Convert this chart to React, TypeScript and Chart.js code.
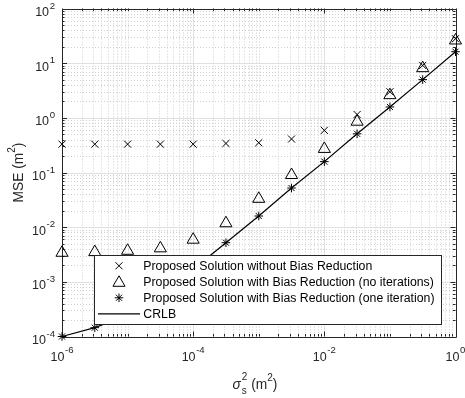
import { useEffect, useRef } from "react";
import { Chart, registerables } from "chart.js";

Chart.register(...registerables);

// ---------- data ----------
const sigmaS2 = [1e-6, 3.16e-6, 1e-5, 3.16e-5, 1e-4, 3.16e-4, 1e-3, 3.16e-3, 1e-2, 3.16e-2, 1e-1, 3.16e-1, 1];
const mseNoBiasReduction = [0.33, 0.33, 0.33, 0.33, 0.33, 0.34, 0.35, 0.41, 0.59, 1.15, 3.0, 9.1, 28];
const mseBiasRedNoIter = [0.0034, 0.0035, 0.0037, 0.0041, 0.0059, 0.0118, 0.033, 0.09, 0.27, 0.85, 2.6, 8.1, 26];
const mseBiasRedOneIter = [1.0e-4, 1.45e-4, 2.45e-4, 5.9e-4, 1.7e-3, 5.2e-3, 0.016, 0.052, 0.158, 0.51, 1.58, 5.0, 16.2];
const crlbValues = [1.0e-4, 1.45e-4, 2.45e-4, 5.9e-4, 1.7e-3, 5.2e-3, 0.016, 0.052, 0.158, 0.51, 1.58, 5.0, 16.2];

const xTickExponents = [-6, -4, -2, 0];
const yTickExponents = [-4, -3, -2, -1, 0, 1, 2];

const legendLabels = [
  "Proposed Solution without Bias Reduction",
  "Proposed Solution with Bias Reduction (no iterations)",
  "Proposed Solution with Bias Reduction (one iteration)",
  "CRLB",
];

const FONT_FAMILY = '"Liberation Sans", Arial, Helvetica, sans-serif';
const AXIS_COLOR = "#262626";

function toPoints(ys: number[]) {
  return sigmaS2.map((x, i) => ({ x, y: ys[i] }));
}

// ---------- marker drawing for legend ----------
function drawMarker(ctx: CanvasRenderingContext2D, kind: string, x: number, y: number) {
  ctx.save();
  ctx.strokeStyle = "#000";
  ctx.lineWidth = 1;
  ctx.beginPath();
  if (kind === "x") {
    const d = 5 * Math.SQRT1_2;
    ctx.moveTo(x - d, y - d); ctx.lineTo(x + d, y + d);
    ctx.moveTo(x - d, y + d); ctx.lineTo(x + d, y - d);
  } else if (kind === "tri") {
    const r = 7;
    for (let k = 0; k < 3; k++) {
      const a = (k * 2 * Math.PI) / 3;
      const px = x + Math.sin(a) * r, py = y - Math.cos(a) * r;
      if (k === 0) ctx.moveTo(px, py); else ctx.lineTo(px, py);
    }
    ctx.closePath();
  } else if (kind === "star") {
    const r = 4.3;
    const d = r * Math.SQRT1_2;
    ctx.moveTo(x - r, y); ctx.lineTo(x + r, y);
    ctx.moveTo(x, y - r); ctx.lineTo(x, y + r);
    ctx.moveTo(x - d, y - d); ctx.lineTo(x + d, y + d);
    ctx.moveTo(x - d, y + d); ctx.lineTo(x + d, y - d);
  }
  ctx.stroke();
  ctx.restore();
}

function drawPow(ctx: CanvasRenderingContext2D, exp: number, x: number, baseY: number, align: "center" | "right") {
  const baseFont = `12.5px ${FONT_FAMILY}`;
  const expFont = `9.6px ${FONT_FAMILY}`;
  const expStr = String(exp);
  ctx.font = baseFont;
  const bw = ctx.measureText("10").width;
  ctx.font = expFont;
  const ew = ctx.measureText(expStr).width;
  const gap = 0.6;
  const total = bw + gap + ew;
  const x0 = align === "center" ? x - total / 2 : x - total;
  ctx.textAlign = "left";
  ctx.textBaseline = "alphabetic";
  ctx.fillStyle = AXIS_COLOR;
  ctx.font = baseFont;
  ctx.fillText("10", x0, baseY);
  ctx.font = expFont;
  ctx.fillText(expStr, x0 + bw + gap, baseY - 7.4);
}

const matlabPlugin = {
  id: "matlabStyle",
  beforeDraw(chart: any) {
    const { ctx, chartArea: a, scales } = chart;
    const xs = scales.x, ys = scales.y;
    ctx.save();
    ctx.fillStyle = "#fff";
    ctx.fillRect(0, 0, chart.width, chart.height);

    const xMinE = Math.round(Math.log10(xs.min)), xMaxE = Math.round(Math.log10(xs.max));
    const yMinE = Math.round(Math.log10(ys.min)), yMaxE = Math.round(Math.log10(ys.max));

    // minor grid (dotted)
    ctx.strokeStyle = "#cfcfcf";
    ctx.lineWidth = 1;
    ctx.setLineDash([1, 2]);
    ctx.beginPath();
    for (let e = xMinE; e < xMaxE; e++) {
      for (let k = 1; k <= 9; k++) {
        if (k === 1 && xTickExponents.includes(e)) continue;
        const px = Math.round(xs.getPixelForValue(k * Math.pow(10, e))) + 0.5;
        ctx.moveTo(px, a.top); ctx.lineTo(px, a.bottom);
      }
    }
    for (let e = yMinE; e < yMaxE; e++) {
      for (let k = 2; k <= 9; k++) {
        const py = Math.round(ys.getPixelForValue(k * Math.pow(10, e))) + 0.5;
        ctx.moveTo(a.left, py); ctx.lineTo(a.right, py);
      }
    }
    ctx.stroke();

    // major grid (solid)
    ctx.setLineDash([]);
    ctx.strokeStyle = "#e0e0e0";
    ctx.beginPath();
    xTickExponents.forEach((e) => {
      const px = Math.round(xs.getPixelForValue(Math.pow(10, e))) + 0.5;
      ctx.moveTo(px, a.top); ctx.lineTo(px, a.bottom);
    });
    yTickExponents.forEach((e) => {
      const py = Math.round(ys.getPixelForValue(Math.pow(10, e))) + 0.5;
      ctx.moveTo(a.left, py); ctx.lineTo(a.right, py);
    });
    ctx.stroke();

    // box + inward ticks
    ctx.strokeStyle = AXIS_COLOR;
    ctx.lineWidth = 1;
    ctx.beginPath();
    ctx.rect(Math.round(a.left) + 0.5, Math.round(a.top) + 0.5, Math.round(a.right - a.left), Math.round(a.bottom - a.top));
    ctx.stroke();

    ctx.beginPath();
    for (let e = xMinE; e <= xMaxE; e++) {
      for (let k = 1; k <= 9; k++) {
        if (e === xMaxE && k > 1) break;
        const major = k === 1 && xTickExponents.includes(e);
        const len = major ? 5 : 2.5;
        const px = Math.round(xs.getPixelForValue(k * Math.pow(10, e))) + 0.5;
        ctx.moveTo(px, a.bottom); ctx.lineTo(px, a.bottom - len);
        ctx.moveTo(px, a.top); ctx.lineTo(px, a.top + len);
      }
    }
    for (let e = yMinE; e <= yMaxE; e++) {
      for (let k = 1; k <= 9; k++) {
        if (e === yMaxE && k > 1) break;
        const len = k === 1 ? 5 : 2.5;
        const py = Math.round(ys.getPixelForValue(k * Math.pow(10, e))) + 0.5;
        ctx.moveTo(a.left, py); ctx.lineTo(a.left + len, py);
        ctx.moveTo(a.right, py); ctx.lineTo(a.right - len, py);
      }
    }
    ctx.stroke();

    // tick labels
    xTickExponents.forEach((e) => {
      const px = xs.getPixelForValue(Math.pow(10, e));
      drawPow(ctx, e, px, a.bottom + 24.3, "center");
    });
    yTickExponents.forEach((e) => {
      const py = ys.getPixelForValue(Math.pow(10, e));
      drawPow(ctx, e, a.left - 7, py + 7.6, "right");
    });

    // x title: sigma_s^2 (m^2)
    {
      const mainFont = `13.75px ${FONT_FAMILY}`;
      const italicFont = `italic 13.75px ${FONT_FAMILY}`;
      const smallFont = `10px ${FONT_FAMILY}`;
      const baseY = 388.5;
      ctx.fillStyle = AXIS_COLOR;
      ctx.textAlign = "left";
      ctx.font = italicFont;
      const wSig = ctx.measureText("σ").width;
      ctx.font = smallFont;
      const wSup = Math.max(ctx.measureText("2").width, ctx.measureText("s").width);
      ctx.font = mainFont;
      const wOpen = ctx.measureText(" (m").width;
      ctx.font = smallFont;
      const w2 = ctx.measureText("2").width;
      ctx.font = mainFont;
      const wClose = ctx.measureText(")").width;
      const total = wSig + 1 + wSup + wOpen + w2 + wClose;
      const cx = 255;
      let x = cx - total / 2;
      ctx.font = italicFont;
      ctx.fillText("σ", x, baseY);
      x += wSig + 1;
      ctx.font = smallFont;
      ctx.fillText("2", x, baseY - 8.5);
      ctx.fillText("s", x, baseY + 5);
      x += wSup;
      ctx.font = mainFont;
      ctx.fillText(" (m", x, baseY);
      x += wOpen;
      ctx.font = smallFont;
      ctx.fillText("2", x, baseY - 7.5);
      x += w2;
      ctx.font = mainFont;
      ctx.fillText(")", x, baseY);
    }

    // y title: MSE (m^2)
    {
      const mainFont = `13.75px ${FONT_FAMILY}`;
      const smallFont = `10px ${FONT_FAMILY}`;
      ctx.save();
      ctx.translate(22.5, (a.top + a.bottom) / 2);
      ctx.rotate(-Math.PI / 2);
      ctx.fillStyle = AXIS_COLOR;
      ctx.textAlign = "left";
      ctx.font = mainFont;
      const w1 = ctx.measureText("MSE (m").width;
      const w3 = ctx.measureText(")").width;
      ctx.font = smallFont;
      const w2 = ctx.measureText("2").width;
      let x = -(w1 + w2 + w3) / 2;
      ctx.font = mainFont;
      ctx.fillText("MSE (m", x, 0);
      x += w1;
      ctx.font = smallFont;
      ctx.fillText("2", x, -7.5);
      x += w2;
      ctx.font = mainFont;
      ctx.fillText(")", x, 0);
      ctx.restore();
    }
    ctx.restore();
  },
  afterDatasetsDraw(chart: any) {
    const { ctx } = chart;
    ctx.save();
    const left = 94.5, right = 441.5, top = 255.5, bottom = 324.5;
    ctx.fillStyle = "#fff";
    ctx.fillRect(left, top, right - left, bottom - top);
    ctx.strokeStyle = AXIS_COLOR;
    ctx.lineWidth = 1;
    ctx.strokeRect(left, top, right - left, bottom - top);
    const kinds = ["x", "tri", "star", "line"];
    const rowY0 = 265.8, rowStep = 16;
    ctx.font = `12.3px ${FONT_FAMILY}`;
    ctx.textAlign = "left";
    ctx.textBaseline = "middle";
    legendLabels.forEach((label, i) => {
      const y = rowY0 + i * rowStep;
      if (kinds[i] === "line") {
        ctx.strokeStyle = "#000";
        ctx.lineWidth = 1.2;
        ctx.beginPath();
        ctx.moveTo(98, y); ctx.lineTo(140, y);
        ctx.stroke();
      } else {
        drawMarker(ctx, kinds[i], 119, kinds[i] === "tri" ? y + 1 : y);
      }
      ctx.fillStyle = "#000";
      ctx.fillText(label, 143.3, y + 0.5);
    });
    ctx.restore();
  },
};

export default function App() {
  const canvasRef = useRef<HTMLCanvasElement | null>(null);

  useEffect(() => {
    document.body.style.margin = "0";
    const canvas = canvasRef.current;
    if (!canvas) return;
    const chart = new Chart(canvas, {
      type: "scatter",
      data: {
        datasets: [
          {
            label: legendLabels[3],
            data: toPoints(crlbValues),
            showLine: true,
            borderColor: "#000",
            borderWidth: 1.2,
            pointRadius: 0,
            clip: false,
          } as any,
          {
            label: legendLabels[0],
            data: toPoints(mseNoBiasReduction),
            pointStyle: "crossRot",
            pointRadius: 5,
            borderColor: "#000",
            backgroundColor: "transparent",
            pointBorderWidth: 1,
            showLine: false,
            clip: false,
          } as any,
          {
            label: legendLabels[1],
            data: toPoints(mseBiasRedNoIter),
            pointStyle: "triangle",
            pointRadius: 7,
            borderColor: "#000",
            backgroundColor: "transparent",
            pointBorderWidth: 1,
            showLine: false,
            clip: false,
          } as any,
          {
            label: legendLabels[2],
            data: toPoints(mseBiasRedOneIter),
            pointStyle: "star",
            pointRadius: 4.3,
            borderColor: "#000",
            backgroundColor: "transparent",
            pointBorderWidth: 1,
            showLine: false,
            clip: false,
          } as any,
        ],
      },
      options: {
        animation: false,
        responsive: false,
        devicePixelRatio: 1,
        layout: { padding: { left: 62, right: 9.5, top: 8.5, bottom: 61.5 } },
        plugins: { legend: { display: false }, tooltip: { enabled: false } },
        events: [],
        scales: {
          x: { type: "logarithmic", min: 1e-6, max: 1, display: false },
          y: { type: "logarithmic", min: 1e-4, max: 100, display: false },
        },
      } as any,
      plugins: [matlabPlugin],
    });
    return () => chart.destroy();
  }, []);

  return (
    <div style={{ position: "fixed", left: 0, top: 0, width: 465, height: 398 }}>
      <canvas ref={canvasRef} width={465} height={398} style={{ width: 465, height: 398, display: "block" }} />
    </div>
  );
}
